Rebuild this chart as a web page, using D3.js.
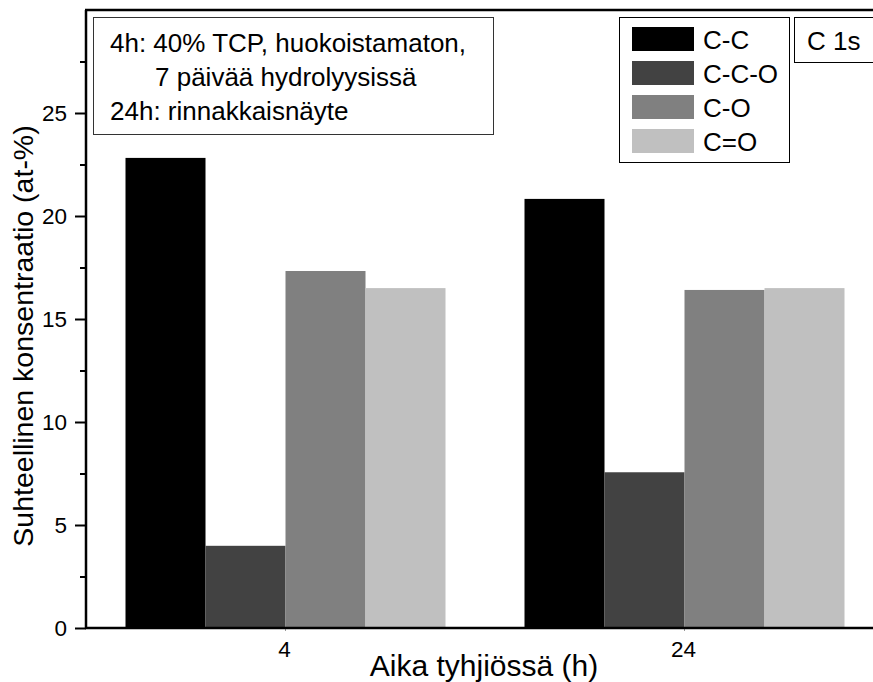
<script src="https://d3js.org/d3.v7.min.js"></script>
<body style="margin:0"></body>
<script>
  // data
  var groups = ["4", "24"];
  var series = ["C-C", "C-C-O", "C-O", "C=O"];
  var colors = ["#000000", "#424242", "#808080", "#c0c0c0"];
  var valuesCC = [22.82, 20.83];
  var valuesCCO = [3.99, 7.56];
  var valuesCO = [17.33, 16.41];
  var valuesCeqO = [16.50, 16.50];
  var yTicks = [0, 5, 10, 15, 20, 25];
  var noteLines = ["4h: 40% TCP, huokoistamaton,", "7 päivää hydrolyysissä", "24h: rinnakkaisnäyte"];

  var allValues = [valuesCC, valuesCCO, valuesCO, valuesCeqO];

  var width = 873, height = 682;
  var plotLeft = 86, plotTop = 10, plotBottom = 628, plotRight = 884; // right edge falls outside the window
  var font = "Arial, 'Liberation Sans', sans-serif";

  var svg = d3.select("body").append("svg")
    .attr("width", width)
    .attr("height", height)
    .style("display", "block")
    .style("background", "white");

  var y = d3.scaleLinear().domain([0, 30]).range([plotBottom, plotTop]);
  var x = d3.scaleBand().domain(groups).range([plotLeft, plotRight]).padding(0);
  var xInner = d3.scaleBand().domain(series).range([-160, 160]).padding(0);

  // bars
  var rows = [];
  groups.forEach(function(g, gi) {
    series.forEach(function(s, si) {
      rows.push({group: g, series: s, color: colors[si], value: allValues[si][gi]});
    });
  });

  svg.selectAll("rect.bar")
    .data(rows)
    .enter().append("rect")
    .attr("class", "bar")
    .attr("x", function(d) { return x(d.group) + x.bandwidth() / 2 + xInner(d.series); })
    .attr("y", function(d) { return y(d.value); })
    .attr("width", xInner.bandwidth())
    .attr("height", function(d) { return y(0) - y(d.value); })
    .style("fill", function(d) { return d.color; });

  // y axis, major and minor ticks
  var yAxis = svg.append("g")
    .attr("transform", "translate(" + plotLeft + ",0)")
    .call(d3.axisLeft(y).tickValues(yTicks).tickSize(11).tickPadding(8));
  yAxis.select(".domain").remove();
  yAxis.selectAll("line").attr("stroke", "#000").attr("stroke-width", 2);
  yAxis.selectAll("text")
    .style("font-family", font)
    .style("font-size", "22.5px")
    .attr("fill", "#000");

  var minor = svg.append("g")
    .attr("transform", "translate(" + plotLeft + ",0)")
    .call(d3.axisLeft(y).tickValues([2.5, 7.5, 12.5, 17.5, 22.5, 27.5]).tickSize(6).tickFormat(""));
  minor.select(".domain").remove();
  minor.selectAll("line").attr("stroke", "#000").attr("stroke-width", 2);

  // x axis
  var xAxis = svg.append("g")
    .attr("transform", "translate(0," + plotBottom + ")")
    .call(d3.axisBottom(x).tickSize(3).tickPadding(10));
  xAxis.select(".domain").remove();
  xAxis.selectAll("line").attr("stroke", "#999").attr("stroke-width", 1);
  xAxis.selectAll("text")
    .attr("dx", -1)
    .style("font-family", font)
    .style("font-size", "22.5px")
    .attr("fill", "#000");

  // frame lines
  svg.append("line")
    .attr("x1", plotLeft).attr("y1", plotTop).attr("x2", plotLeft).attr("y2", plotBottom + 1)
    .attr("stroke", "#000").attr("stroke-width", 2.5);
  svg.append("line")
    .attr("x1", plotLeft - 1).attr("y1", plotBottom).attr("x2", width).attr("y2", plotBottom)
    .attr("stroke", "#000").attr("stroke-width", 2.5);
  svg.append("line")
    .attr("x1", plotLeft - 1).attr("y1", plotTop).attr("x2", width).attr("y2", plotTop)
    .attr("stroke", "#000").attr("stroke-width", 2.5);

  // axis titles
  svg.append("text")
    .attr("x", 484)
    .attr("y", 676)
    .attr("text-anchor", "middle")
    .style("font-family", font)
    .style("font-size", "30px")
    .text("Aika tyhjiössä (h)");

  svg.append("text")
    .attr("transform", "translate(33,336) rotate(-90)")
    .attr("text-anchor", "middle")
    .style("font-family", font)
    .style("font-size", "28.5px")
    .text("Suhteellinen konsentraatio (at-%)");

  // note box
  svg.append("rect")
    .attr("x", 93.5).attr("y", 17.5).attr("width", 400).attr("height", 117)
    .style("fill", "white").attr("stroke", "#333").attr("stroke-width", 1);
  var noteX = [110, 155, 110];
  var noteY = [52, 86, 120];
  svg.selectAll("text.note")
    .data(noteLines)
    .enter().append("text")
    .attr("class", "note")
    .attr("x", function(d, i) { return noteX[i]; })
    .attr("y", function(d, i) { return noteY[i]; })
    .style("font-family", font)
    .style("font-size", "26px")
    .text(function(d) { return d; });

  // legend
  var legend = svg.append("g");
  legend.append("rect")
    .attr("x", 619.5).attr("y", 17.5).attr("width", 170).attr("height", 145)
    .style("fill", "white").attr("stroke", "#000").attr("stroke-width", 1);
  var items = legend.selectAll("g.item")
    .data(series)
    .enter().append("g")
    .attr("class", "item")
    .attr("transform", function(d, i) { return "translate(632," + (27 + i * 34) + ")"; });
  items.append("rect")
    .attr("width", 62).attr("height", 24)
    .style("fill", function(d, i) { return colors[i]; });
  items.append("text")
    .attr("x", 71)
    .attr("y", 21.5)
    .style("font-family", font)
    .style("font-size", "26px")
    .text(function(d) { return d; });

  // C 1s label
  svg.append("rect")
    .attr("x", 794.5).attr("y", 17.5).attr("width", 100).attr("height", 45)
    .style("fill", "white").attr("stroke", "#000").attr("stroke-width", 1);
  svg.append("text")
    .attr("x", 807).attr("y", 50)
    .style("font-family", font)
    .style("font-size", "26px")
    .text("C 1s");
</script>
